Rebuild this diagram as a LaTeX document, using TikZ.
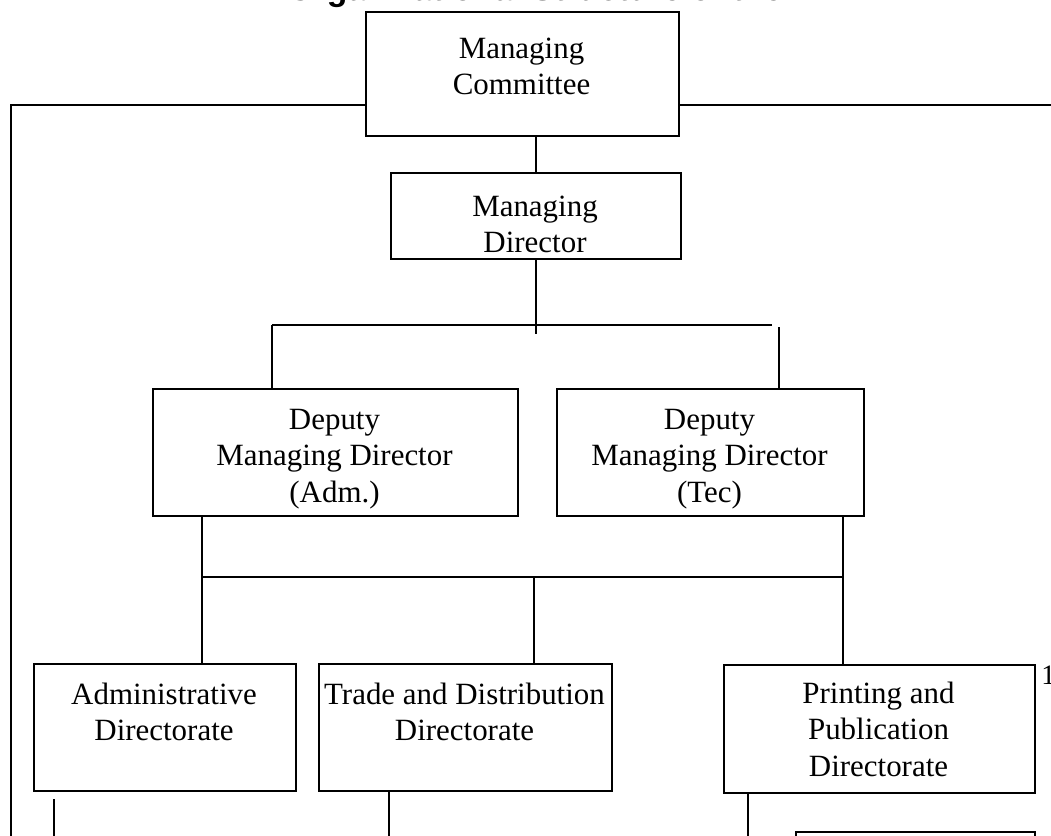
\documentclass[tikz,border=0pt]{standalone}
\usepackage{fontspec}
\setmainfont{Liberation Serif}
\newfontfamily\headfont{Liberation Sans}
\usepackage{tikz}
\usetikzlibrary{positioning}

\begin{document}
\begin{tikzpicture}[
    x=0.025cm, y=-0.025cm,
    unit/.style={rectangle, draw=black, line width=1.1pt, inner sep=0pt, anchor=north west},
    caption/.style={align=center, inner sep=0pt, anchor=north, font=\fontsize{22}{26}\selectfont},
    link/.style={line width=1.1pt, draw=black}
]
\useasboundingbox (0,0) rectangle (1051,835);
% heading, cut off by the page edge
\node (title) [anchor=base, font=\headfont\bfseries\fontsize{24}{28}\selectfont] at (535,0) {Organizational Structure of the};
\node (cut) [anchor=base west, inner sep=0pt, font=\fontsize{20}{24}\selectfont] at (1041,684) {1};
% boxes
\node (mc) [unit, minimum width=7.825cm, minimum height=3.1cm] at (365,11) {};
\node (md) [unit, minimum width=7.25cm, minimum height=2.15cm] at (390,172) {};
\node (dmdadm) [unit, minimum width=9.125cm, minimum height=3.175cm] at (152,388) {};
\node (dmdtec) [unit, minimum width=7.675cm, minimum height=3.175cm] at (556,388) {};
\node (admin) [unit, minimum width=6.55cm, minimum height=3.175cm] at (33,663) {};
\node (trade) [unit, minimum width=7.325cm, minimum height=3.175cm] at (318,663) {};
\node (print) [unit, minimum width=7.775cm, minimum height=3.2cm] at (723,664) {};
\node (next) [unit, minimum width=5.975cm, minimum height=2cm] at (795,831) {};
% texts
\node (mctext) [caption] at (521.5,37.5) {Managing\\Committee};
\node (mdtext) [caption] at (535,195.5) {Managing\\Director};
\node (dmdadmtext) [caption] at (334.5,408.5) {Deputy\\Managing Director\\(Adm.)};
\node (dmdtectext) [caption] at (709.5,408.5) {Deputy\\Managing Director\\(Tec)};
\node (admintext) [caption] at (164,682.5) {Administrative\\Directorate};
\node (tradetext) [caption] at (464.5,682.5) {Trade and Distribution\\Directorate};
\node (printtext) [caption] at (878.5,681.5) {Printing and\\Publication\\Directorate};
% joints
\coordinate (bar1L) at (272,325);
\coordinate (bar1R) at (772,325);
\coordinate (tecdrop) at (779,327);
\coordinate (bar2L) at (202,577);
\coordinate (bar2M) at (534,577);
\coordinate (bar2R) at (843,577);
\coordinate (outerL) at (11,105);
\coordinate (outerLend) at (11,850);
\coordinate (outerR) at (1060,105);
\coordinate (adminstub) at (54,799);
\coordinate (tradestub) at (389,790);
\coordinate (printstub) at (748,792);
% connectors
\draw [link] (md.north) -- (md.north |- mc.south);
\draw [link] (md.south) -- ++(0,74);
\draw [link] (bar1L) -- (bar1R);
\draw [link] (bar1L) -- (bar1L |- dmdadm.north);
\draw [link] (tecdrop) -- (tecdrop |- dmdtec.north);
\draw [link] (bar2L |- dmdadm.south) -- (bar2L |- admin.north);
\draw [link] (bar2R |- dmdtec.south) -- (bar2R |- print.north);
\draw [link] (bar2L) -- (bar2R);
\draw [link] (bar2M) -- (bar2M |- trade.north);
\draw [link] (mc.west |- outerL) -- (outerL) -- (outerLend);
\draw [link] (mc.east |- outerR) -- (outerR);
\draw [link] (adminstub) -- ++(0,50);
\draw [link] (tradestub) -- ++(0,50);
\draw [link] (printstub) -- ++(0,50);
\end{tikzpicture}
\end{document}
